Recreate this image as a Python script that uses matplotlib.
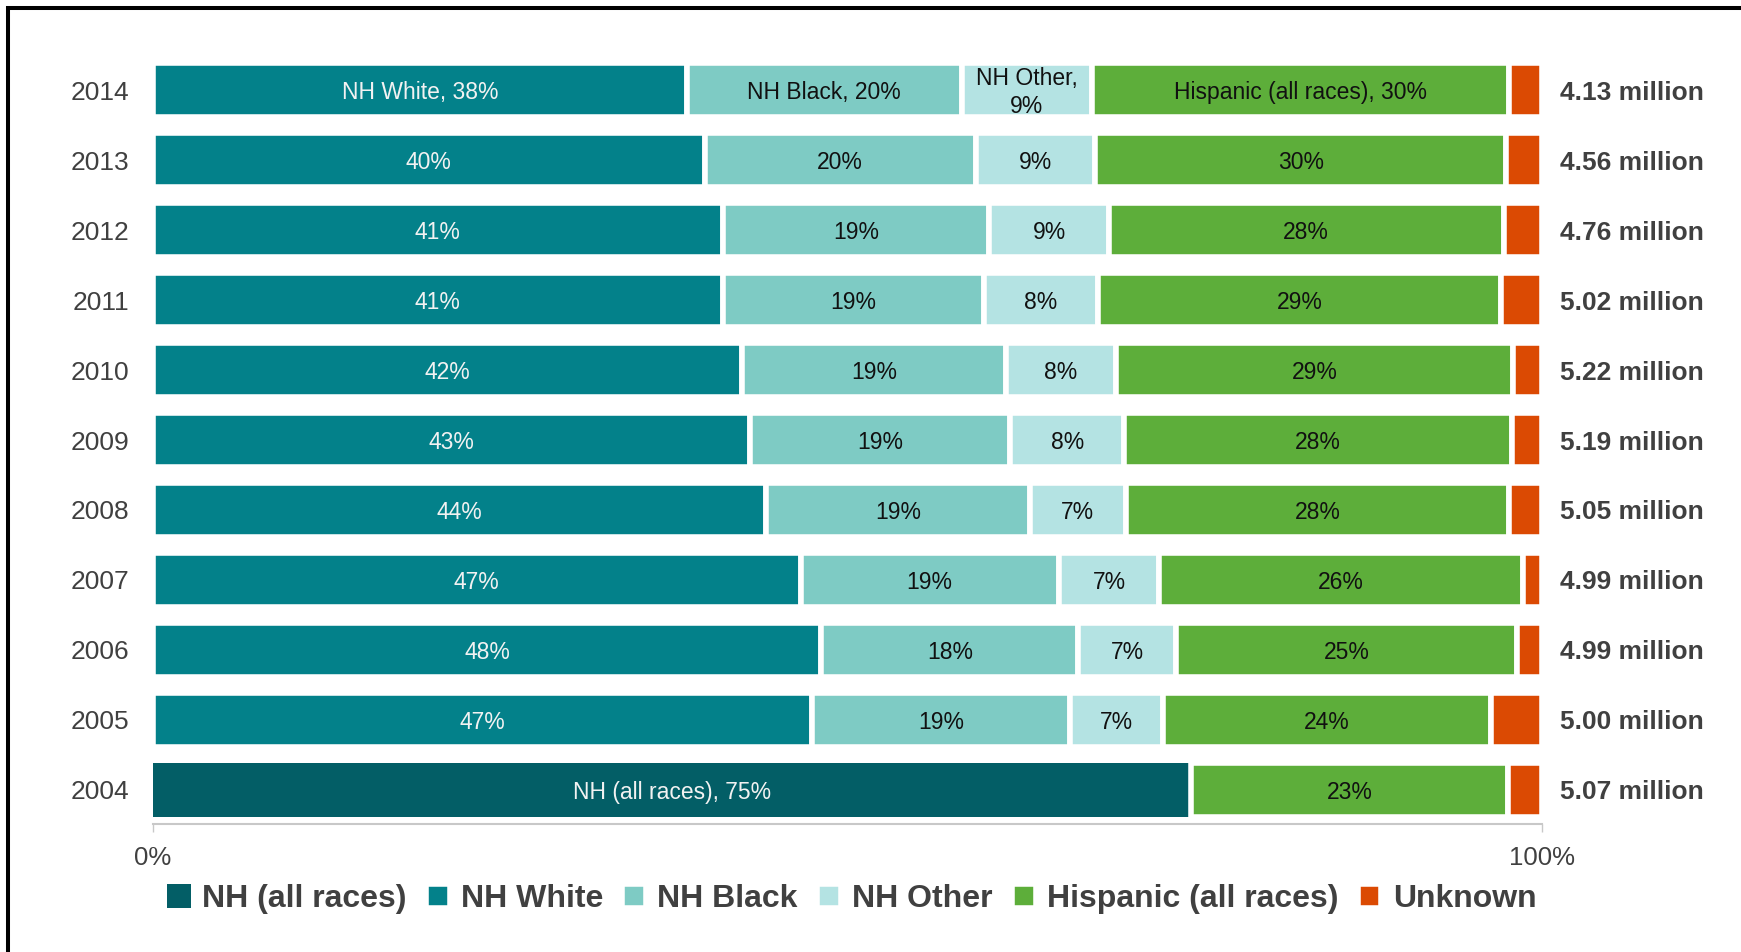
"""
Births by race/ethnicity of mother, 2004-2014 (share of total).
"""

import matplotlib
matplotlib.use('Agg')
import matplotlib.pyplot as plt
from matplotlib import font_manager
from matplotlib.lines import Line2D
from matplotlib.patches import Patch
import matplotlib.transforms as mtransforms

# data, top row first
years = ['2014', '2013', '2012', '2011', '2010', '2009', '2008', '2007', '2006', '2005', '2004']
nh_all = [0, 0, 0, 0, 0, 0, 0, 0, 0, 0, 74.7]
nh_white = [38.4, 39.7, 41.0, 41.0, 42.4, 43.0, 44.1, 46.6, 48.1, 47.4, 0]
nh_black = [19.8, 19.5, 19.2, 18.8, 19.0, 18.7, 19.0, 18.6, 18.5, 18.6, 0]
nh_other = [9.4, 8.6, 8.6, 8.2, 7.9, 8.2, 6.9, 7.2, 7.0, 6.7, 0]
hispanic = [30.0, 29.6, 28.4, 29.0, 28.6, 27.9, 27.6, 26.2, 24.6, 23.6, 22.8]
unknown = [2.4, 2.6, 2.8, 3.0, 2.1, 2.2, 2.4, 1.4, 1.8, 3.7, 2.5]
totals = ['4.13 million', '4.56 million', '4.76 million', '5.02 million', '5.22 million',
          '5.19 million', '5.05 million', '4.99 million', '4.99 million', '5.00 million',
          '5.07 million']

categories = ['NH (all races)', 'NH White', 'NH Black', 'NH Other', 'Hispanic (all races)', 'Unknown']
series = [nh_all, nh_white, nh_black, nh_other, hispanic, unknown]
colors = ['#035E66', '#03818A', '#7ECBC4', '#B4E3E3', '#5DAE3A', '#DB4A03']
text_colors = ['#F2F2F2', '#F2F2F2', '#111111', '#111111', '#111111', None]
# the first row carries the category name in its labels
first_row_labels = {'NH White': 'NH White, {}', 'NH Black': 'NH Black, {}',
                    'NH Other': 'NH Other,\n{}', 'Hispanic (all races)': 'Hispanic (all races), {}',
                    'NH (all races)': 'NH (all races), {}'}

GREY = '#404040'
EDGE_LW = 4.0


def has_font(name):
    try:
        font_manager.findfont(name, fallback_to_default=False)
        return True
    except ValueError:
        return False


if has_font('Liberation Sans Narrow'):
    narrow_family, narrow_size = 'Liberation Sans Narrow', 19
else:
    narrow_family, narrow_size = 'Liberation Sans', 16.5

plt.rcParams['font.family'] = ['Liberation Sans', 'DejaVu Sans']

fig = plt.figure(figsize=(17.41, 9.52), dpi=100)
ax = fig.add_axes([0.08788, 0.13445, 0.7981, 0.8148])

n = len(years)
ypos = [n - 1 - i for i in range(n)]
left = [0.0] * n

for cat, vals, col, tcol in zip(categories, series, colors, text_colors):
    if cat == 'NH (all races)':
        edges = ['none'] * n
    else:
        edges = ['white' if v > 0 else 'none' for v in vals]
    ax.barh(ypos, vals, left=left, height=0.773, color=col,
            edgecolor=edges, linewidth=EDGE_LW)
    if tcol is not None:
        for i, v in enumerate(vals):
            if v <= 0:
                continue
            txt = f'{v:.0f}%'
            if i == 0 or cat == 'NH (all races)':
                txt = first_row_labels[cat].format(txt)
            multi = '\n' in txt
            ax.text(left[i] + v / 2, ypos[i] - (0.03 if multi else 0.0), txt,
                    ha='center', va='center' if multi else 'center_baseline',
                    color=tcol, family=narrow_family, fontsize=narrow_size,
                    linespacing=1.3 if multi else 1.0)
    left = [l + v for l, v in zip(left, vals)]

# totals to the right of the bars
trans = mtransforms.blended_transform_factory(ax.transAxes, ax.transData)
for y, t in zip(ypos, totals):
    ax.annotate(t, xy=(1.0, y), xycoords=trans, xytext=(12.6, 0), textcoords='offset points',
                ha='left', va='center_baseline', fontsize=19, fontweight='bold', color=GREY)

ax.set_xlim(0, 100)
ax.set_ylim(-0.49, 10.6)
ax.set_yticks(ypos, labels=years)
ax.tick_params(axis='y', length=0, pad=17, labelsize=19, labelcolor=GREY)
ax.set_xticks([0, 100], labels=['0%', '100%'])
ax.tick_params(axis='x', length=5.8, width=1, color='#C8C8C8', pad=10,
               labelsize=18.5, labelcolor=GREY)
for side in ['top', 'right', 'left']:
    ax.spines[side].set_visible(False)
ax.spines['bottom'].set_color('#C8C8C8')
ax.spines['bottom'].set_linewidth(1.5)

# legend
handles = []
for cat, col in zip(categories, colors):
    ec = 'none' if cat == 'NH (all races)' else 'white'
    handles.append(Patch(facecolor=col, edgecolor=ec, linewidth=EDGE_LW))
fig.legend(handles, categories, loc='center', bbox_to_anchor=(0.4891, 0.0555), ncol=6,
           frameon=False, prop={'size': 23, 'weight': 'bold'}, labelcolor=GREY,
           handlelength=0.75, handleheight=0.75, handletextpad=0.35,
           columnspacing=0.6, borderpad=0)

# frame lines (top and left)
fig.add_artist(Line2D([6 / 1741, 1], [1 - 8 / 952, 1 - 8 / 952], color='black',
                      linewidth=2.9, transform=fig.transFigure, solid_capstyle='butt'))
fig.add_artist(Line2D([8 / 1741, 8 / 1741], [1 - 6 / 952, 0], color='black',
                      linewidth=2.9, transform=fig.transFigure, solid_capstyle='butt'))

fig.savefig('out.png', dpi=100)
